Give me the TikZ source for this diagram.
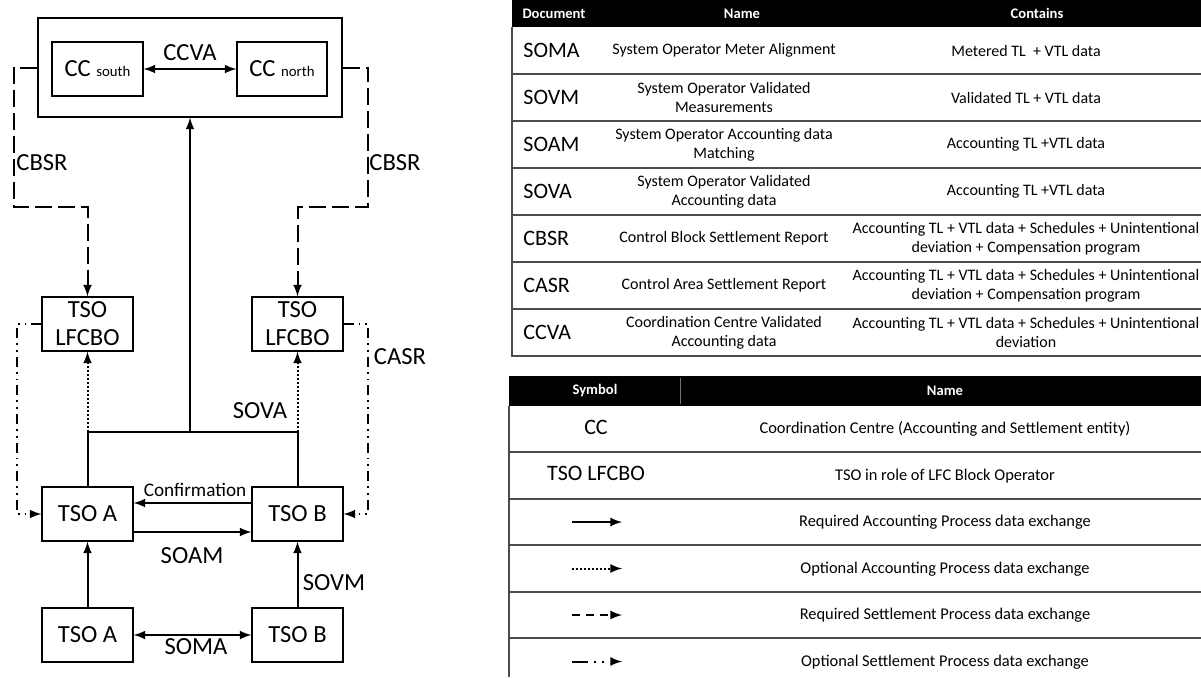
\documentclass[tikz,border=0pt]{standalone}
\usepackage{fontspec}
\setmainfont{Carlito}
\usepackage{xcolor}
\usetikzlibrary{arrows}

\tikzset{
  tsobox/.style={draw,line width=0.6pt,minimum width=45.5pt,minimum height=27pt,
    inner sep=0pt,align=center,font=\fontsize{12.3}{14}\selectfont},
  lbl/.style={inner sep=0pt,font=\fontsize{12.3}{14}\selectfont},
  reqacc/.style={line width=1pt},
  optacc/.style={line width=1pt,dash pattern=on 0.9pt off 1.1pt},
  reqset/.style={line width=1pt,dash pattern=on 8.5pt off 3pt},
  optset/.style={line width=1pt,dash pattern=on 5pt off 2.5pt on 0.9pt off 2.5pt on 0.9pt off 2.5pt},
  hdr/.style={text=white,inner sep=0pt,font=\fontsize{7.3}{9}\selectfont\bfseries},
  doctxt/.style={inner sep=0pt,font=\fontsize{11}{13}\selectfont},
  celltxt/.style={inner sep=0pt,align=center,font=\fontsize{8}{9.5}\selectfont},
  rowline/.style={black!70,line width=0.6pt}
}

\begin{document}
\begin{tikzpicture}[x=0.5pt,y=-0.5pt,>=latex]
\useasboundingbox (0,0) rectangle (1201,677);

% coordination centre
\node[draw,line width=0.6pt,minimum width=152pt,minimum height=49.5pt,inner sep=0pt] (cc) at (190,67.5) {};
\node[tsobox] (ccs) at (97.5,69) {CC {\fontsize{7.4}{9}\selectfont south}};
\node[tsobox,minimum width=45pt] (ccn) at (282,69) {CC {\fontsize{7.4}{9}\selectfont north}};
\draw[reqacc,<->] (ccs) -- (ccn);
\node[lbl] (lccva) at (190,53) {CCVA};

% block operators
\node[tsobox] (lfa) at (87.5,324) {TSO\\LFCBO};
\node[tsobox] (lfb) at (297.5,324) {TSO\\LFCBO};

% TSOs
\node[tsobox] (tsoa) at (87.5,514) {TSO A};
\node[tsobox] (tsob) at (297.5,514) {TSO B};
\node[tsobox] (tsoam) at (87.5,635) {TSO A};
\node[tsobox] (tsobm) at (297.5,635) {TSO B};

% settlement reports
\coordinate (cbl) at (14,207);
\coordinate (cbr) at (368,207);
\draw[reqset,->] (cc.west) -| (cbl) -| (lfa.north);
\draw[reqset,->] (cc.east) -| (cbr) -| (lfb.north);
\node[lbl] (lcbsra) at (42,163) {CBSR};
\node[lbl] (lcbsrb) at (395,163) {CBSR};

\coordinate (casl) at (17,514);
\coordinate (casr) at (368,514);
\draw[optset,->] (lfa.west) -| (casl) -- (tsoa.west);
\draw[optset,->] (lfb.east) -| (casr) -- (tsob.east);
\node[lbl] (lcasr) at (400,357) {CASR};

% accounting data
\coordinate (ja) at (87.5,432);
\coordinate (jb) at (297.5,432);
\coordinate (jc) at (190,432);
\draw[reqacc] (tsoa.north) -- (ja) -- (jb) -- (tsob.north);
\draw[reqacc,->] (jc) -- (cc.south);
\draw[optacc,->] (ja) -- (lfa.south);
\draw[optacc,->] (jb) -- (lfb.south);
\node[lbl] (lsova) at (260,411) {SOVA};

\draw[reqacc,->] ([yshift=5.5pt]tsob.west) -- ([yshift=5.5pt]tsoa.east);
\node[lbl,font=\fontsize{9.6}{11}\selectfont] (lconf) at (195,490) {Confirmation};
\draw[reqacc,->] ([yshift=-9pt]tsoa.east) -- ([yshift=-9pt]tsob.east -| tsob.west);
\node[lbl] (lsoam) at (192,556) {SOAM};

\draw[reqacc,->] (tsoam) -- (tsoa);
\draw[reqacc,->] (tsobm) -- (tsob);
\node[lbl] (lsovm) at (334,583) {SOVM};
\draw[reqacc,<->] (tsoam) -- (tsobm);
\node[lbl] (lsoma) at (196,647) {SOMA};

% documents table
\fill[black] (512,0) rectangle (1201,27);
\node[hdr] (hdoc) at (554,13.5) {Document};
\node[hdr] (hname) at (742,13.5) {Name};
\node[hdr] (hcont) at (1037,13.5) {Contains};
\draw[rowline] (512,27) -- (512,356) -- (1201,356);
\foreach \y in {74,121,...,309}
  \draw[rowline] (512,\y) -- (1201,\y);
\foreach \i/\doc/\nm/\ct in {
  1/SOMA/{System Operator Meter Alignment}/{Metered TL\ \ + VTL data},
  2/SOVM/{System Operator Validated\\Measurements}/{Validated TL + VTL data},
  3/SOAM/{System Operator Accounting data\\Matching}/{Accounting TL +VTL data},
  4/SOVA/{System Operator Validated\\Accounting data}/{Accounting TL +VTL data},
  5/CBSR/{Control Block Settlement Report}/{Accounting TL + VTL data + Schedules + Unintentional\\deviation + Compensation program},
  6/CASR/{Control Area Settlement Report}/{Accounting TL + VTL data + Schedules + Unintentional\\deviation + Compensation program},
  7/CCVA/{Coordination Centre Validated\\Accounting data}/{Accounting TL + VTL data + Schedules + Unintentional\\deviation}}
{
  \node[doctxt,anchor=west] (doc\i) at (523,{27+47*(\i-0.5)}) {\doc};
  \node[celltxt] (name\i) at (724,{27+47*(\i-0.5)}) {\nm};
  \node[celltxt] (cont\i) at (1026,{27+47*(\i-0.5)}) {\ct};
}

% symbols table
\fill[black] (509,376) rectangle (1201,406);
\draw[black!55,line width=0.4pt] (680,378) -- (680,404);
\node[hdr] (hsym) at (595,391) {Symbol};
\node[hdr] (hsname) at (945,391) {Name};
\draw[rowline] (509,406) -- (509,677);
\foreach \y in {452,499,545,592,638}
  \draw[rowline] (509,\y) -- (1201,\y);
\node[doctxt] (sym1) at (596,427) {CC};
\node[doctxt] (sym2) at (596,473) {TSO LFCBO};
\foreach \i/\nm in {
  1/{Coordination Centre (Accounting and Settlement entity)},
  2/{TSO in role of LFC Block Operator},
  3/{Required Accounting Process data exchange},
  4/{Optional Accounting Process data exchange},
  5/{Required Settlement Process data exchange},
  6/{Optional Settlement Process data exchange}}
{
  \node[celltxt,font=\fontsize{8.2}{10}\selectfont] (sname\i) at (945,{406+46.5*(\i-0.5)}) {\nm};
}
\coordinate (la3) at (572,522);   \coordinate (lb3) at (622,522);
\coordinate (la4) at (572,568.5); \coordinate (lb4) at (622,568.5);
\coordinate (la5) at (572,615);   \coordinate (lb5) at (622,615);
\coordinate (la6) at (572,661.5); \coordinate (lb6) at (622,661.5);
\draw[reqacc,->] (la3) -- (lb3);
\draw[optacc,->] (la4) -- (lb4);
\draw[reqset,dash pattern=on 4pt off 3pt,->] (la5) -- (lb5);
\draw[optset,dash pattern=on 8pt off 3pt on 1pt off 3pt on 1pt off 10pt,->] (la6) -- (lb6);
\end{tikzpicture}
\end{document}
